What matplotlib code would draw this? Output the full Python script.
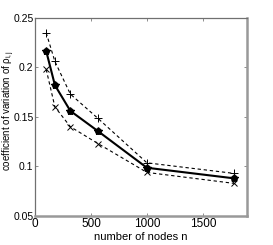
import matplotlib
matplotlib.use("Agg")
import matplotlib.pyplot as plt

n_nodes = [100, 178, 316, 562, 1000, 1778]
cv_mean = [0.2166, 0.182, 0.156, 0.1356, 0.0985, 0.0878]
cv_upper = [0.235, 0.206, 0.173, 0.1485, 0.1035, 0.0928]
cv_lower = [0.198, 0.160, 0.140, 0.123, 0.0938, 0.0827]
xticks = [0, 500, 1000, 1500]
yticks = [0.05, 0.1, 0.15, 0.2, 0.25]
ytick_labels = ["0.05", "0.1", "0.15", "0.2", "0.25"]

plt.rcParams['font.family'] = ['Liberation Sans', 'DejaVu Sans']
plt.rcParams['mathtext.fontset'] = 'custom'
plt.rcParams['mathtext.rm'] = 'Liberation Sans'
plt.rcParams['mathtext.it'] = 'Liberation Sans'

fig = plt.figure(figsize=(2.73, 2.45), dpi=100)
ax = fig.add_axes([35/273, 1 - 215.7/245, (246.5-35)/273, (215.7-18)/245])

ax.plot(n_nodes, cv_upper, color='black', linestyle=(0, (3, 2.5)), linewidth=0.8,
        marker='+', markersize=6, markeredgewidth=0.7)
ax.plot(n_nodes, cv_lower, color='black', linestyle=(0, (3, 2.5)), linewidth=0.8,
        marker='x', markersize=4.5, markeredgewidth=0.7)
ax.plot(n_nodes, cv_mean, color='black', linestyle='-', linewidth=1.5,
        marker='o', markersize=4)
ax.plot(n_nodes, cv_mean, color='black', linestyle='none',
        marker='*', markersize=5.5)

ax.set_xlim(0, 1890)
ax.set_ylim(0.05, 0.25)
ax.set_xticks(xticks)
ax.set_yticks(yticks)
ax.set_yticklabels(ytick_labels)
ax.tick_params(direction='in', length=2, width=0.5, labelsize=8.5, pad=2,
               top=True, right=True, colors='#606060', labelcolor='black')
ax.tick_params(axis='y', labelsize=7.5, pad=1)
for s in ax.spines.values():
    s.set_color('#707070')
    s.set_linewidth(0.9)
ax.spines['right'].set_linewidth(1.8)
ax.spines['right'].set_color('#999999')
ax.spines['bottom'].set_linewidth(1.8)
ax.spines['bottom'].set_color('#999999')

ax.set_xlabel("number of nodes n", fontsize=8, labelpad=1)
fig.text(0.5/273, 1 - 110/245, r"coefficient of variation of $\rho_{\mathrm{i,j}}$",
         fontsize=7, rotation=90, ha='left', va='center')

fig.savefig("out.png", dpi=100)
